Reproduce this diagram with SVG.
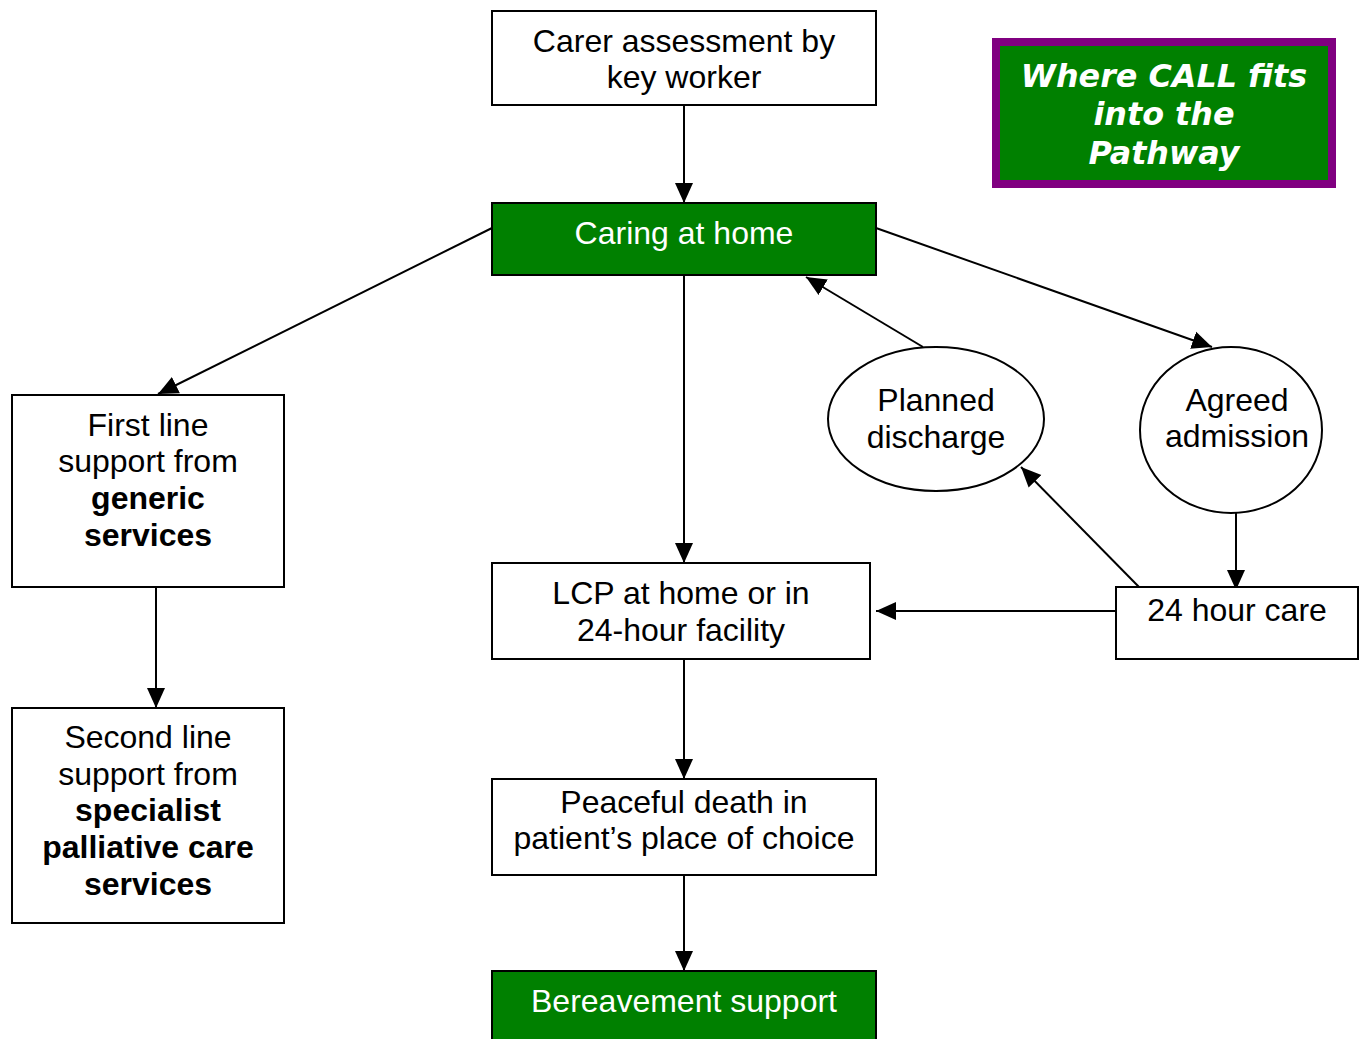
<svg xmlns="http://www.w3.org/2000/svg" width="1364" height="1039" viewBox="0 0 1364 1039">
<defs>
<marker id="ah" markerUnits="userSpaceOnUse" markerWidth="20" markerHeight="20" viewBox="0 0 20 20" refX="20" refY="10" orient="auto">
<path d="M0,1 L20,10 L0,19 Z" fill="#000"/>
</marker>
<style>
.box{fill:#fff;stroke:#000;stroke-width:2}
.gbox{fill:#008000;stroke:#000;stroke-width:2}
.t{font-family:"Liberation Sans",Arial,sans-serif;font-size:32px;text-anchor:middle;fill:#000}
.w{fill:#fff}
.b{font-weight:bold}
.ttl{font-family:"DejaVu Sans",Verdana,sans-serif;font-size:31.8px;font-weight:bold;font-style:italic;text-anchor:middle;fill:#fff}
.c{stroke:#000;stroke-width:2;fill:none;marker-end:url(#ah)}
</style>
</defs>
<rect width="1364" height="1039" fill="#fff"/>
<g id="connectors">
<line class="c" x1="684" y1="105" x2="684" y2="203"/>
<line class="c" x1="684" y1="275" x2="684" y2="563"/>
<line class="c" x1="492" y1="228" x2="158" y2="394"/>
<line class="c" x1="876" y1="228" x2="1212" y2="347"/>
<line class="c" x1="923" y1="347" x2="806" y2="277"/>
<line class="c" x1="1139" y1="587" x2="1021" y2="467"/>
<line class="c" x1="1236" y1="513" x2="1236" y2="590"/>
<line class="c" x1="1116" y1="611" x2="876" y2="611"/>
<line class="c" x1="156" y1="587" x2="156" y2="708"/>
<line class="c" x1="684" y1="659" x2="684" y2="779"/>
<line class="c" x1="684" y1="875" x2="684" y2="971"/>
</g>
<g id="title">
<rect x="996" y="42" width="336" height="142" fill="#008000" stroke="#800080" stroke-width="8"/>
<text class="ttl" x="1164" y="87">Where CALL fits</text>
<text class="ttl" x="1164" y="125">into the</text>
<text class="ttl" x="1164" y="164">Pathway</text>
</g>
<g id="carer">
<rect class="box" x="492" y="11" width="384" height="94"/>
<text class="t" x="684" y="52">Carer assessment by</text>
<text class="t" x="684" y="88">key worker</text>
</g>
<g id="caring">
<rect class="gbox" x="492" y="203" width="384" height="72"/>
<text class="t w" x="684" y="244">Caring at home</text>
</g>
<g id="firstline">
<rect class="box" x="12" y="395" width="272" height="192"/>
<text class="t" x="148" y="436">First line</text>
<text class="t" x="148" y="472">support from</text>
<text class="t b" x="148" y="509">generic</text>
<text class="t b" x="148" y="546">services</text>
</g>
<g id="secondline">
<rect class="box" x="12" y="708" width="272" height="215"/>
<text class="t" x="148" y="748">Second line</text>
<text class="t" x="148" y="785">support from</text>
<text class="t b" x="148" y="821">specialist</text>
<text class="t b" x="148" y="858">palliative care</text>
<text class="t b" x="148" y="895">services</text>
</g>
<g id="lcp">
<rect class="box" x="492" y="563" width="378" height="96"/>
<text class="t" x="681" y="604">LCP at home or in</text>
<text class="t" x="681" y="641">24-hour facility</text>
</g>
<g id="peaceful">
<rect class="box" x="492" y="779" width="384" height="96"/>
<text class="t" x="684" y="813">Peaceful death in</text>
<text class="t" x="684" y="849">patient’s place of choice</text>
</g>
<g id="bereavement">
<rect class="gbox" x="492" y="971" width="384" height="72"/>
<text class="t w" x="684" y="1012">Bereavement support</text>
</g>
<g id="care24">
<rect class="box" x="1116" y="587" width="242" height="72"/>
<text class="t" x="1237" y="621">24 hour care</text>
</g>
<g id="planned">
<ellipse class="box" cx="936" cy="419" rx="108" ry="72"/>
<text class="t" x="936" y="411">Planned</text>
<text class="t" x="936" y="448">discharge</text>
</g>
<g id="agreed">
<ellipse class="box" cx="1231" cy="430" rx="91" ry="83"/>
<text class="t" x="1237" y="411">Agreed</text>
<text class="t" x="1237" y="447">admission</text>
</g>
</svg>
